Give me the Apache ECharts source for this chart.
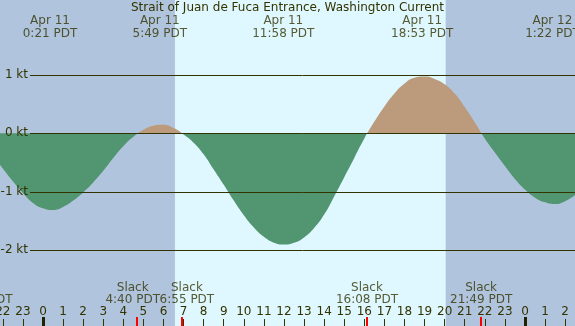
<!DOCTYPE html>
<html><head><meta charset="utf-8">
<script src="https://cdn.jsdelivr.net/npm/echarts@6/dist/echarts.min.js"></script>
<style>html,body{margin:0;padding:0;background:#b0c4de}#c{width:575px;height:326px}</style>
</head><body><div id="c"></div>
<script>
// ---- data (hours relative to Apr 11 00:00 PDT) ----
const titleText = 'Strait of Juan de Fuca Entrance, Washington Current';
const hours = [-2.14, -2.0, -1.5, -1.0, -0.5, 0.0, 0.5, 1.0, 1.5, 2.0, 2.5, 3.0, 3.5, 4.0, 4.5, 5.0, 5.5, 6.0, 6.5, 7.0, 7.5, 8.0, 8.5, 9.0, 9.5, 10.0, 10.5, 11.0, 11.5, 12.0, 12.5, 13.0, 13.5, 14.0, 14.5, 15.0, 15.5, 16.0, 16.5, 17.0, 17.5, 18.0, 18.5, 19.0, 19.5, 20.0, 20.5, 21.0, 21.5, 22.0, 22.5, 23.0, 23.5, 24.0, 24.5, 25.0, 25.5, 26.0, 26.49];
const knots = [-0.54, -0.60, -0.82, -1.02, -1.19, -1.28, -1.31, -1.26, -1.15, -1.01, -0.84, -0.64, -0.42, -0.22, -0.06, 0.06, 0.13, 0.145, 0.09, -0.02, -0.16, -0.36, -0.62, -0.88, -1.15, -1.40, -1.61, -1.77, -1.87, -1.90, -1.87, -1.78, -1.62, -1.39, -1.08, -0.75, -0.42, -0.09, 0.20, 0.46, 0.68, 0.85, 0.95, 0.97, 0.93, 0.84, 0.68, 0.45, 0.19, -0.09, -0.33, -0.56, -0.78, -0.96, -1.10, -1.18, -1.21, -1.16, -1.06];
const hourTicks = [-2,-1,0,1,2,3,4,5,6,7,8,9,10,11,12,13,14,15,16,17,18,19,20,21,22,23,24,25,26];
const midnightTicks = [0, 24];
const gridValues = [1, 0, -1, -2];
const slackTimes = [-3.06, 4.667, 6.917, 16.133, 21.817];
const slackLabels = ['20:56 PDT', '4:40 PDT', '6:55 PDT', '16:08 PDT', '21:49 PDT'];
const peakTimes = [0.35, 5.817, 11.967, 18.883, 25.367];
const peakDates = ['Apr 11', 'Apr 11', 'Apr 11', 'Apr 11', 'Apr 12'];
const peakLabels = ['0:21 PDT', '5:49 PDT', '11:58 PDT', '18:53 PDT', '1:22 PDT'];
const sunrise = 6.57, sunset = 20.05;

// ---- styling / layout ----
const X_MIN = -2.14, X_MAX = 26.49, Y_MIN = -3.294, Y_MAX = 2.279;
const font = 'DejaVu Sans';
const ink = '#333300';
const night = '#b0c4de', day = '#dff7fe', ebb = '#529571', flood = '#bc9a7c';
const slackOffsets = [0, -4, 5, 0, 0];

function xAx(gi, extra) {
  return Object.assign({type: 'value', gridIndex: gi, min: X_MIN, max: X_MAX,
    axisLine: {show: false, onZero: false}, splitLine: {show: false}, axisTick: {show: false}, axisLabel: {show: false}}, extra || {});
}
function yAx(gi, extra) {
  return Object.assign({type: 'value', gridIndex: gi, min: Y_MIN, max: Y_MAX,
    axisLine: {show: false, onZero: false}, splitLine: {show: false}, axisTick: {show: false}, axisLabel: {show: false}}, extra || {});
}
function mkGrid(left) {
  return {left: left, right: 0, top: 0, bottom: 0, containLabel: false, outerBoundsMode: 'none'};
}

const chart = echarts.init(document.getElementById('c'), null, {renderer: 'canvas'});
chart.setOption({
  animation: false,
  backgroundColor: night,
  textStyle: {fontFamily: font},
  title: {text: titleText, left: 'center', top: 2, padding: 0,
    textStyle: {fontFamily: font, fontSize: 12, fontWeight: 'normal', color: ink}},
  grid: [mkGrid(0), mkGrid(30), mkGrid(0), mkGrid(0), mkGrid(0)],
  xAxis: [
    xAx(0, {z: 5,
      axisTick: {show: true, inside: true, length: 7, customValues: hourTicks, lineStyle: {color: ink, width: 1}},
      axisLabel: {show: true, inside: true, margin: 8, customValues: hourTicks, color: ink, fontFamily: font, fontSize: 12,
        alignMinLabel: 'center', alignMaxLabel: 'center', hideOverlap: false,
        formatter: v => String(((Math.round(v) % 24) + 24) % 24)}}),
    xAx(1),
    xAx(2, {z: 6, axisTick: {show: true, inside: true, length: 9, customValues: midnightTicks, lineStyle: {color: '#222200', width: 3}}}),
    xAx(3, {z: 6, axisTick: {show: true, inside: true, length: 9, customValues: slackTimes, lineStyle: {color: '#ff0000', width: 2}}}),
    xAx(4)
  ],
  yAxis: [
    yAx(0),
    yAx(1, {z: 10, axisLabel: {show: true, margin: 2, customValues: gridValues, color: ink, fontFamily: font, fontSize: 12,
      formatter: v => v + ' kt'}}),
    yAx(2), yAx(3),
    yAx(4, {min: 0, max: 1})
  ],
  visualMap: {show: false, type: 'piecewise', seriesIndex: 2, dimension: 1,
    pieces: [{gte: -10, lt: 0, color: ebb}, {gte: 0, lte: 10, color: flood}]},
  series: [
    {type: 'line', xAxisIndex: 0, yAxisIndex: 0, data: [], z: 0, silent: true,
      markArea: {silent: true, itemStyle: {color: day}, data: [[{xAxis: sunrise}, {xAxis: sunset}]]}},
    {type: 'line', xAxisIndex: 1, yAxisIndex: 1, data: [], z: 1, silent: true,
      markLine: {silent: true, symbol: 'none', label: {show: false},
        lineStyle: {color: ink, width: 1, type: 'solid'},
        data: gridValues.map(v => ({yAxis: v}))}},
    {type: 'line', xAxisIndex: 0, yAxisIndex: 0, smooth: true, showSymbol: false, z: 2, silent: true,
      lineStyle: {width: 0, opacity: 0}, areaStyle: {opacity: 1},
      data: hours.map((h, i) => [h, knots[i]])},
    {type: 'scatter', xAxisIndex: 4, yAxisIndex: 4, clip: false, symbolSize: 0, z: 10, silent: true,
      data: peakTimes.map((t, i) => ({value: [t, 1], label: {formatter: peakDates[i] + '\n' + peakLabels[i]}})),
      label: {show: true, position: 'bottom', distance: 15, align: 'center', color: ink, fontFamily: font, fontSize: 12, lineHeight: 12.5}},
    {type: 'scatter', xAxisIndex: 4, yAxisIndex: 4, clip: false, symbolSize: 0, z: 10, silent: true,
      data: slackTimes.map((t, i) => ({value: [t, 0], label: {formatter: 'Slack\n' + slackLabels[i], offset: [slackOffsets[i], 0]}})),
      label: {show: true, position: 'top', distance: 20, align: 'center', color: ink, fontFamily: font, fontSize: 12, lineHeight: 12}}
  ]
});
</script></body></html>
